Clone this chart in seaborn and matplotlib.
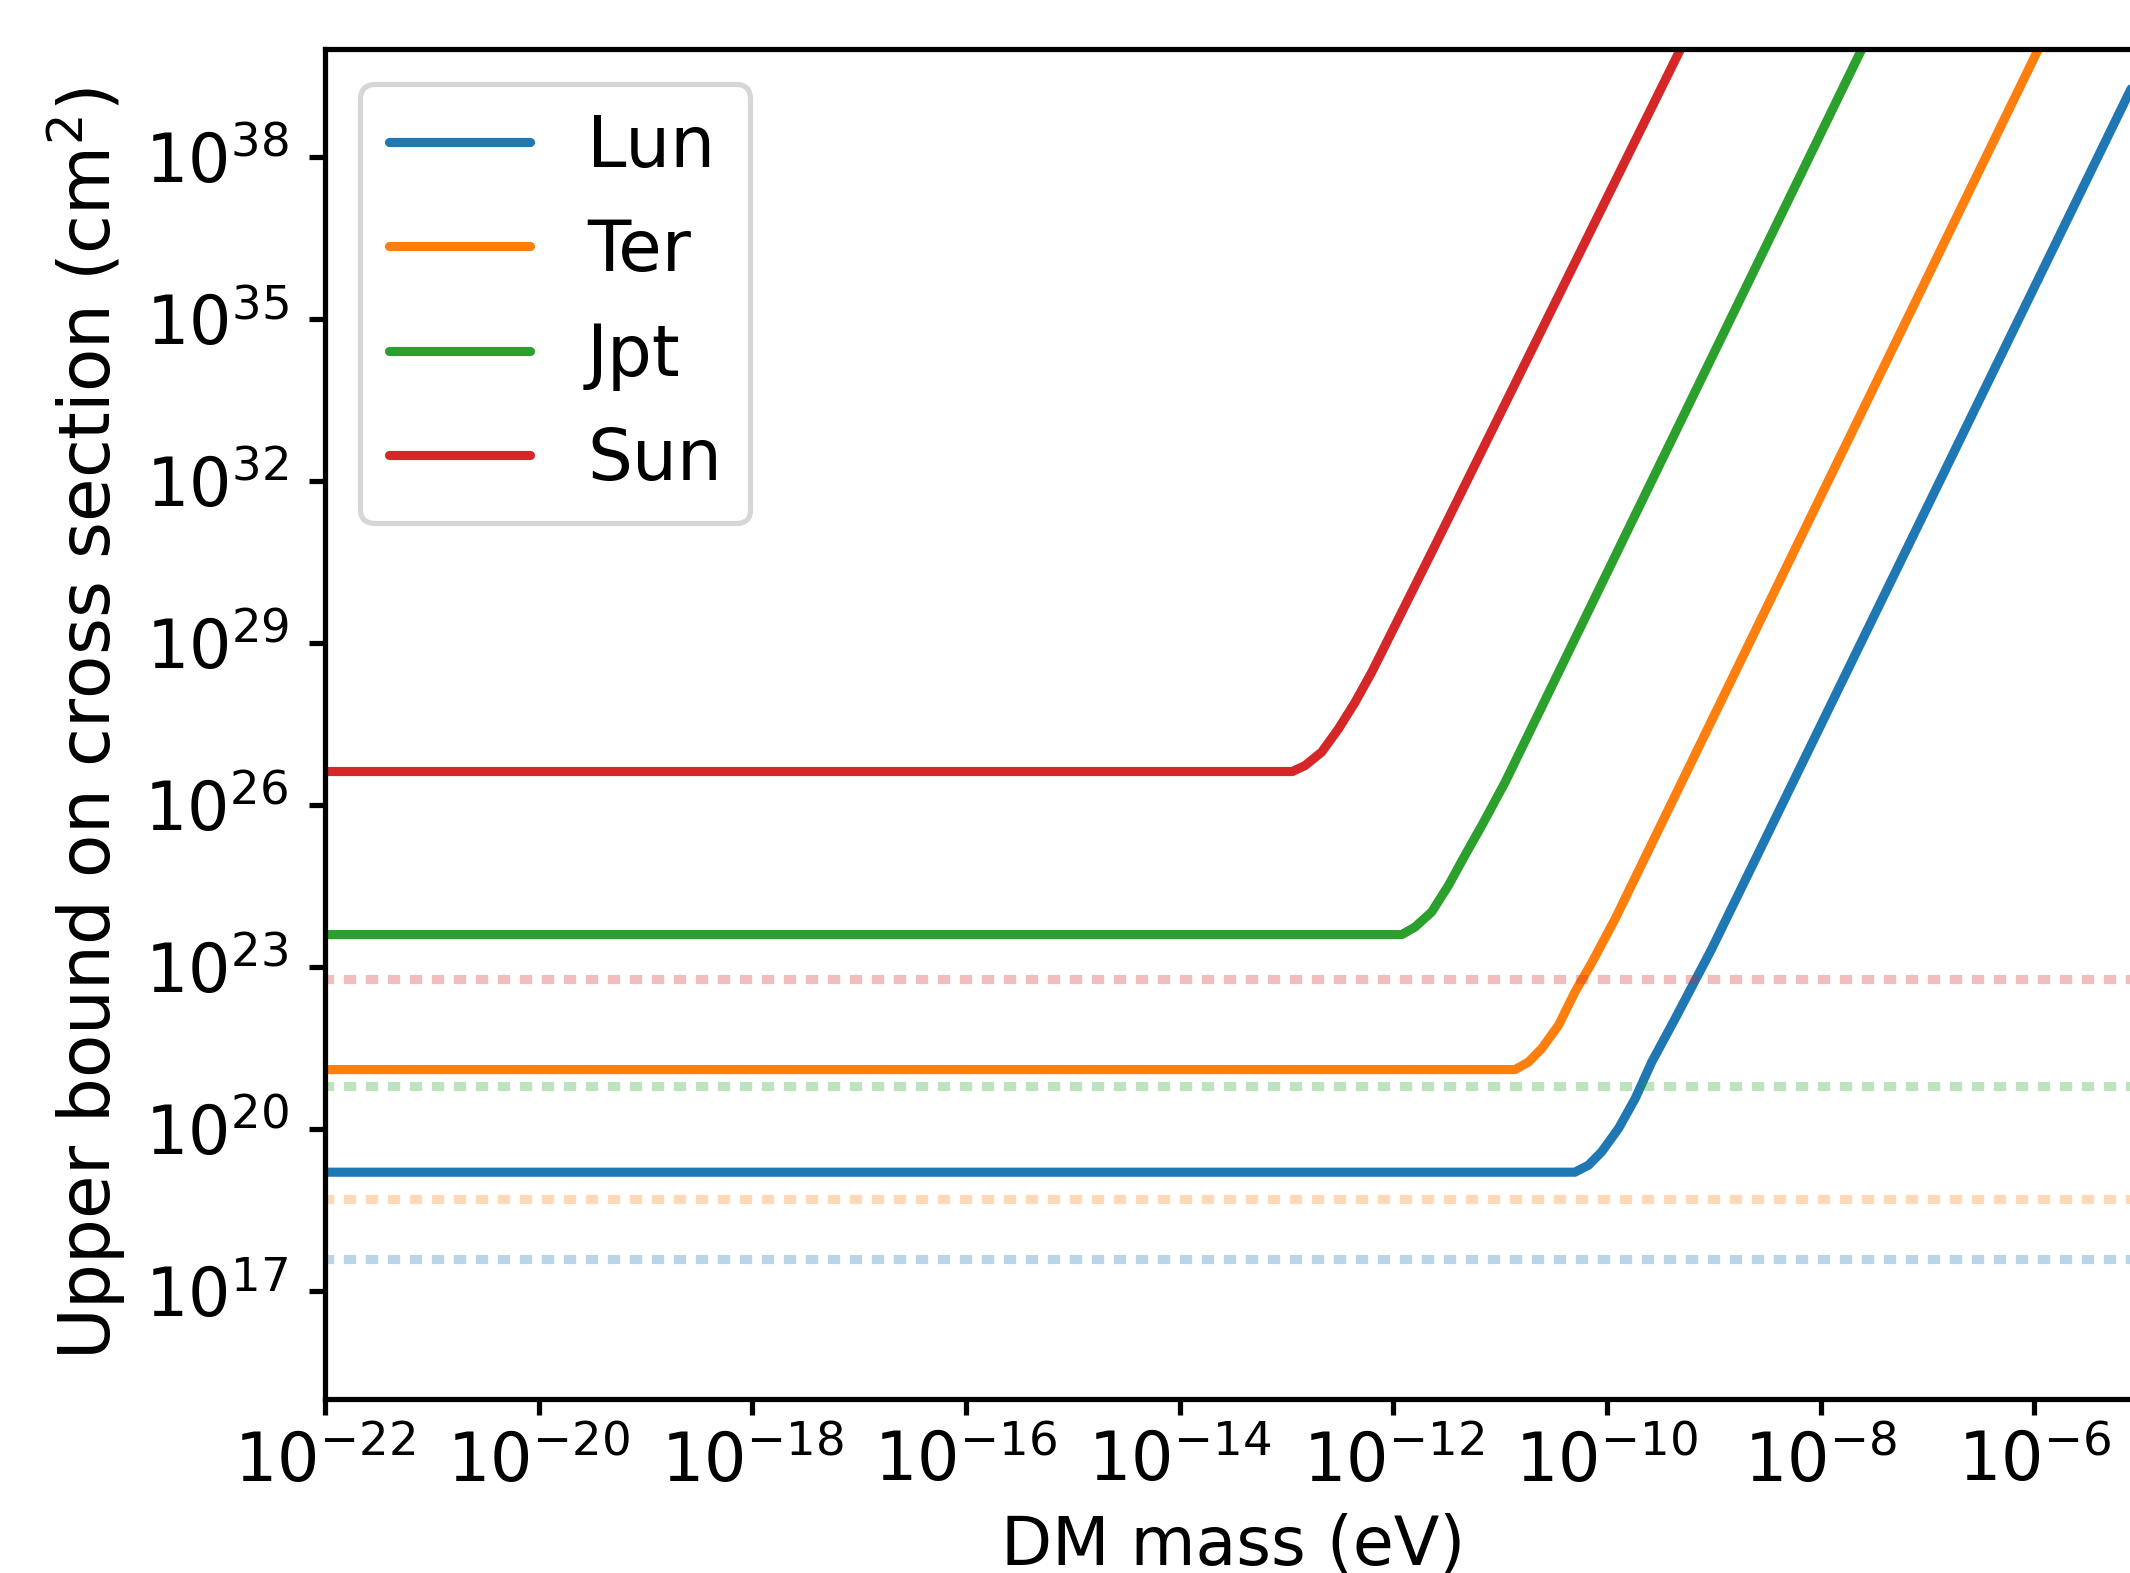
import numpy as np
import pandas as pd
import seaborn as sns
import matplotlib.pyplot as plt
from matplotlib.ticker import NullLocator

# Werte als log10
bodies = ["Lun", "Ter", "Jpt", "Sun"]
colors = ["#1f77b4", "#ff7f0e", "#2ca02c", "#d62728"]

lun_mass = [-22.0, -10.30, -10.172, -10.048, -9.891, -9.736, -9.58, -9.362, -9.02, -5.0]
lun_sigma = [19.20, 19.20, 19.33, 19.58, 20.01, 20.56, 21.24, 22.04, 23.33, 39.64]

ter_mass = [-22.0, -10.86, -10.734, -10.61, -10.453, -10.298, -10.141, -9.923, -5.96]
ter_sigma = [21.10, 21.10, 21.24, 21.49, 21.92, 22.54, 23.08, 23.89, 40.0]

jpt_mass = [-22.0, -11.92, -11.796, -11.64, -11.483, -11.328, -11.171, -10.953, -7.613]
jpt_sigma = [23.60, 23.60, 23.74, 24.02, 24.51, 25.07, 25.62, 26.42, 40.0]

sun_mass = [-22.0, -12.945, -12.826, -12.670, -12.513, -12.358, -12.201, -12.014, -11.61, -9.31]
sun_sigma = [26.62, 26.62, 26.73, 26.98, 27.41, 27.90, 28.46, 29.20, 30.80, 40.0]

# gepunktete Linien (Lun, Ter, Jpt, Sun)
dotted_sigma = [17.59, 18.71, 20.79, 22.78]

curves = {
    "Lun": (lun_mass, lun_sigma),
    "Ter": (ter_mass, ter_sigma),
    "Jpt": (jpt_mass, jpt_sigma),
    "Sun": (sun_mass, sun_sigma),
}

sns.set_theme(style="ticks")
plt.rcParams['font.family'] = ['DejaVu Sans']
plt.rcParams['axes.edgecolor'] = 'black'
plt.rcParams['text.color'] = 'black'
plt.rcParams['axes.labelcolor'] = 'black'
plt.rcParams['xtick.color'] = 'black'
plt.rcParams['ytick.color'] = 'black'

fig = plt.figure(figsize=(7.1, 1573 / 300), dpi=300)
ax = fig.add_axes([325 / 2130, 1 - 1399 / 1573, (2141 - 325) / 2130, (1399 - 49) / 1573])

lw = 2.2
for name, col in zip(bodies, colors):
    m, s = curves[name]
    df = pd.DataFrame({"mass": 10.0 ** np.array(m), "sigma": 10.0 ** np.array(s)})
    sns.lineplot(data=df, x="mass", y="sigma", color=col, linewidth=lw,
                 label=name, ax=ax, sort=False)

for val, col in zip(dotted_sigma, colors):
    ax.axhline(10.0 ** val, color=col, alpha=0.3, linewidth=lw,
               linestyle=(0.4, (1.35, 1.05)))

ax.set_xscale("log")
ax.set_yscale("log")
ax.set_xlim(1e-22, 1e-5)
ax.set_ylim(1e15, 1e40)
ax.set_xticks([10.0 ** k for k in range(-22, -5, 2)])
ax.set_yticks([10.0 ** k for k in range(17, 39, 3)])
ax.xaxis.set_minor_locator(NullLocator())
ax.yaxis.set_minor_locator(NullLocator())
ax.tick_params(axis="both", which="major", labelsize=16, length=3.8, width=1.25)
ax.tick_params(axis="y", pad=5)
for sp in ax.spines.values():
    sp.set_linewidth(1.25)

ax.set_xlabel("DM mass (eV)", fontsize=16)
ax.set_ylabel("Upper bound on cross section (cm$^2$)", fontsize=17)

leg = ax.legend(loc="upper left", fontsize=17, frameon=True, fancybox=True)
leg.get_frame().set_edgecolor("0.8")
leg.get_frame().set_linewidth(1.25)

fig.savefig("out.png", dpi=300)
